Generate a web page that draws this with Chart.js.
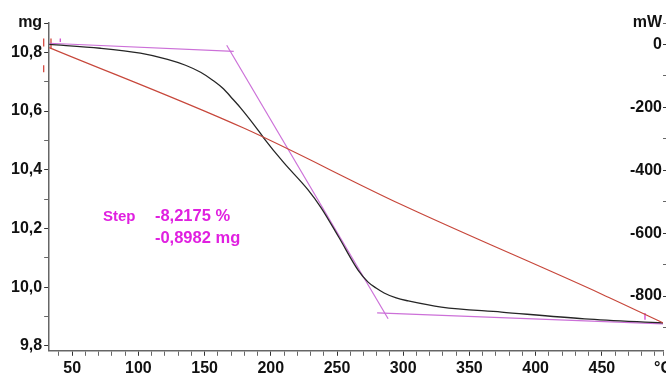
<!DOCTYPE html>
<html>
<head>
<meta charset="utf-8">
<script src="https://cdn.jsdelivr.net/npm/chart.js@4.4.0/dist/chart.umd.min.js"></script>
<style>
  html, body { margin: 0; padding: 0; background: #fff; }
</style>
</head>
<body>
<canvas id="tga" width="666" height="378"></canvas>
<script>
// TG curve (mass vs temperature)
const tgTemp = [32.6, 71.2, 101.5, 122, 135.6, 147, 156.1, 164.4, 171.2, 177.3, 190.2, 194.7, 209.8, 228, 237.9, 251.5,
  265.9, 273.5, 279.5, 285.6, 294.7, 303.8, 328.8, 374.2, 437.1, 496.2];
const tgMass = [10.827, 10.814, 10.797, 10.776, 10.756, 10.732, 10.705, 10.675, 10.641, 10.61, 10.536, 10.508, 10.424, 10.332, 10.271, 10.169,
  10.058, 10.017, 9.997, 9.98, 9.963, 9.953, 9.932, 9.915, 9.892, 9.878];

// DSC heat flow (right axis)
const dscTemp = [32.6, 179.5, 298.5, 450, 496.2];
const dscPower = [-10, -266, -509, -794, -885];

// step evaluation tangents
const tangentTemp = [[32.6, 172], [166.7, 288.6], [280.3, 496.2]];
const tangentMass = [[10.831, 10.803], [10.824, 9.892], [9.912, 9.875]];

// small cursor marks (magenta) and limit brackets (red)
const markTemp = [[41, 41], [482.6, 482.6]];
const markMass = [[10.847, 10.835], [9.912, 9.889]];
const bracketTemp = [[28.5, 28.5], [34, 34], [28.5, 28.5]];
const bracketMass = [[10.847, 10.82], [10.847, 10.813], [10.756, 10.732]];

// axis ticks
const tempMin = 32.6, tempMax = 496.2;
const tempTicks = [40, 50, 60, 70, 80, 90, 100, 110, 120, 130, 140, 150, 160, 170, 180, 190, 200, 210, 220, 230, 240, 250,
  260, 270, 280, 290, 300, 310, 320, 330, 340, 350, 360, 370, 380, 390, 400, 410, 420, 430, 440, 450, 460, 470, 480, 490, tempMax];
const massMin = 9.783, massMax = 10.9;
const massTicks = [10.9, 10.8, 10.7, 10.6, 10.5, 10.4, 10.3, 10.2, 10.1, 10.0, 9.9, 9.8];
const powerMin = -974, powerMax = 68;
const powerTicks = [68, 0, -100, -200, -300, -400, -500, -600, -700, -800, -900];

const stepText = ['Step', '-8,2175 %', '-0,8982 mg'];

const tickFont = { family: "'Liberation Sans', Arial, sans-serif", size: 16, weight: 'bold' };
const axisGray = '#666';

const toXY = (xs, ys) => xs.map((x, i) => ({ x: x, y: ys[i] }));
const comma = (v, d) => v.toFixed(d).replace('.', ',');

// write the step result text at a spot given in data units
const stepLabel = {
  id: 'stepLabel',
  afterDatasetsDraw(chart) {
    const { ctx, scales } = chart;
    const x0 = scales.x.getPixelForValue(73.2);
    const x1 = scales.x.getPixelForValue(112.5);
    const yA = scales.y.getPixelForValue(10.225);
    const yB = scales.y.getPixelForValue(10.15);
    ctx.save();
    ctx.fillStyle = '#e020e0';
    ctx.textBaseline = 'alphabetic';
    ctx.font = "bold 15px 'Liberation Sans', Arial, sans-serif";
    ctx.fillText(stepText[0], x0, yA);
    ctx.font = "bold 16.5px 'Liberation Sans', Arial, sans-serif";
    ctx.fillText(stepText[1], x1, yA);
    ctx.fillText(stepText[2], x1, yB);
    ctx.restore();
  }
};

const lineSet = (data, color, width, axis) => ({
  data: data,
  borderColor: color,
  borderWidth: width,
  pointRadius: 0,
  fill: false,
  yAxisID: axis || 'y'
});

const datasets = [
  lineSet(toXY(dscTemp, dscPower), '#c7473b', 1.2, 'y2'),
  lineSet(toXY(tgTemp, tgMass), '#262626', 1.3),
];
datasets[0].cubicInterpolationMode = 'monotone';
datasets[1].cubicInterpolationMode = 'monotone';
tangentTemp.forEach((t, i) => datasets.push(lineSet(toXY(t, tangentMass[i]), '#cc70d8', 1.2)));
markTemp.forEach((t, i) => datasets.push(lineSet(toXY(t, markMass[i]), '#cc33cc', 1.2)));
bracketTemp.forEach((t, i) => {
  const d = lineSet(toXY(t, bracketMass[i]), '#d03a30', 1.2);
  d.clip = false;
  datasets.push(d);
});

const noPad = (scale) => { scale.paddingLeft = 0; scale.paddingRight = 0; scale.paddingTop = 0; scale.paddingBottom = 0; };
const minorColor = (isMajor) => (c) => (c.tick && isMajor(c.tick.value)) ? '#333' : '#666';

new Chart(document.getElementById('tga'), {
  type: 'line',
  data: { datasets: datasets },
  plugins: [stepLabel],
  options: {
    responsive: false,
    animation: false,
    layout: { padding: { left: 9, top: 23, right: 0, bottom: -3 } },
    plugins: { legend: { display: false }, tooltip: { enabled: false } },
    scales: {
      x: {
        type: 'linear',
        min: tempMin,
        max: tempMax,
        afterBuildTicks: (s) => { s.ticks = tempTicks.map(v => ({ value: v })); },
        afterFit: noPad,
        border: { color: axisGray, width: 1.5 },
        grid: { drawOnChartArea: false, tickLength: 5,
          tickColor: minorColor(v => v % 50 === 0) },
        ticks: {
          autoSkip: false, maxRotation: 0, padding: 3, color: '#111', font: tickFont,
          callback: (v) => v === tempMax ? '°C' : (v % 50 === 0 ? String(v) : '')
        }
      },
      y: {
        position: 'left',
        min: massMin,
        max: massMax,
        afterBuildTicks: (s) => { s.ticks = massTicks.map(v => ({ value: v })); },
        afterFit: noPad,
        border: { color: axisGray, width: 1.5 },
        grid: { drawOnChartArea: false, tickLength: 5,
          tickColor: minorColor(v => v > 10.85 || Math.round(v * 10) % 2 === 0) },
        ticks: {
          autoSkip: false, padding: 2, color: '#111', font: tickFont,
          callback: (v) => {
            if (v === massMax) return 'mg';
            return Math.round(v * 10) % 2 === 0 ? comma(v, 1) : '';
          }
        }
      },
      y2: {
        position: 'right',
        min: powerMin,
        max: powerMax,
        afterBuildTicks: (s) => { s.ticks = powerTicks.map(v => ({ value: v })); },
        afterFit: noPad,
        border: { display: false },
        grid: { drawOnChartArea: false, tickLength: 5,
          tickColor: minorColor(v => v % 200 === 0) },
        ticks: {
          autoSkip: false, mirror: true, padding: -1, color: '#111', font: tickFont,
          callback: (v) => v === powerMax ? 'mW' : (v % 200 === 0 ? String(v) : '')
        }
      }
    }
  }
});
</script>
</body>
</html>
